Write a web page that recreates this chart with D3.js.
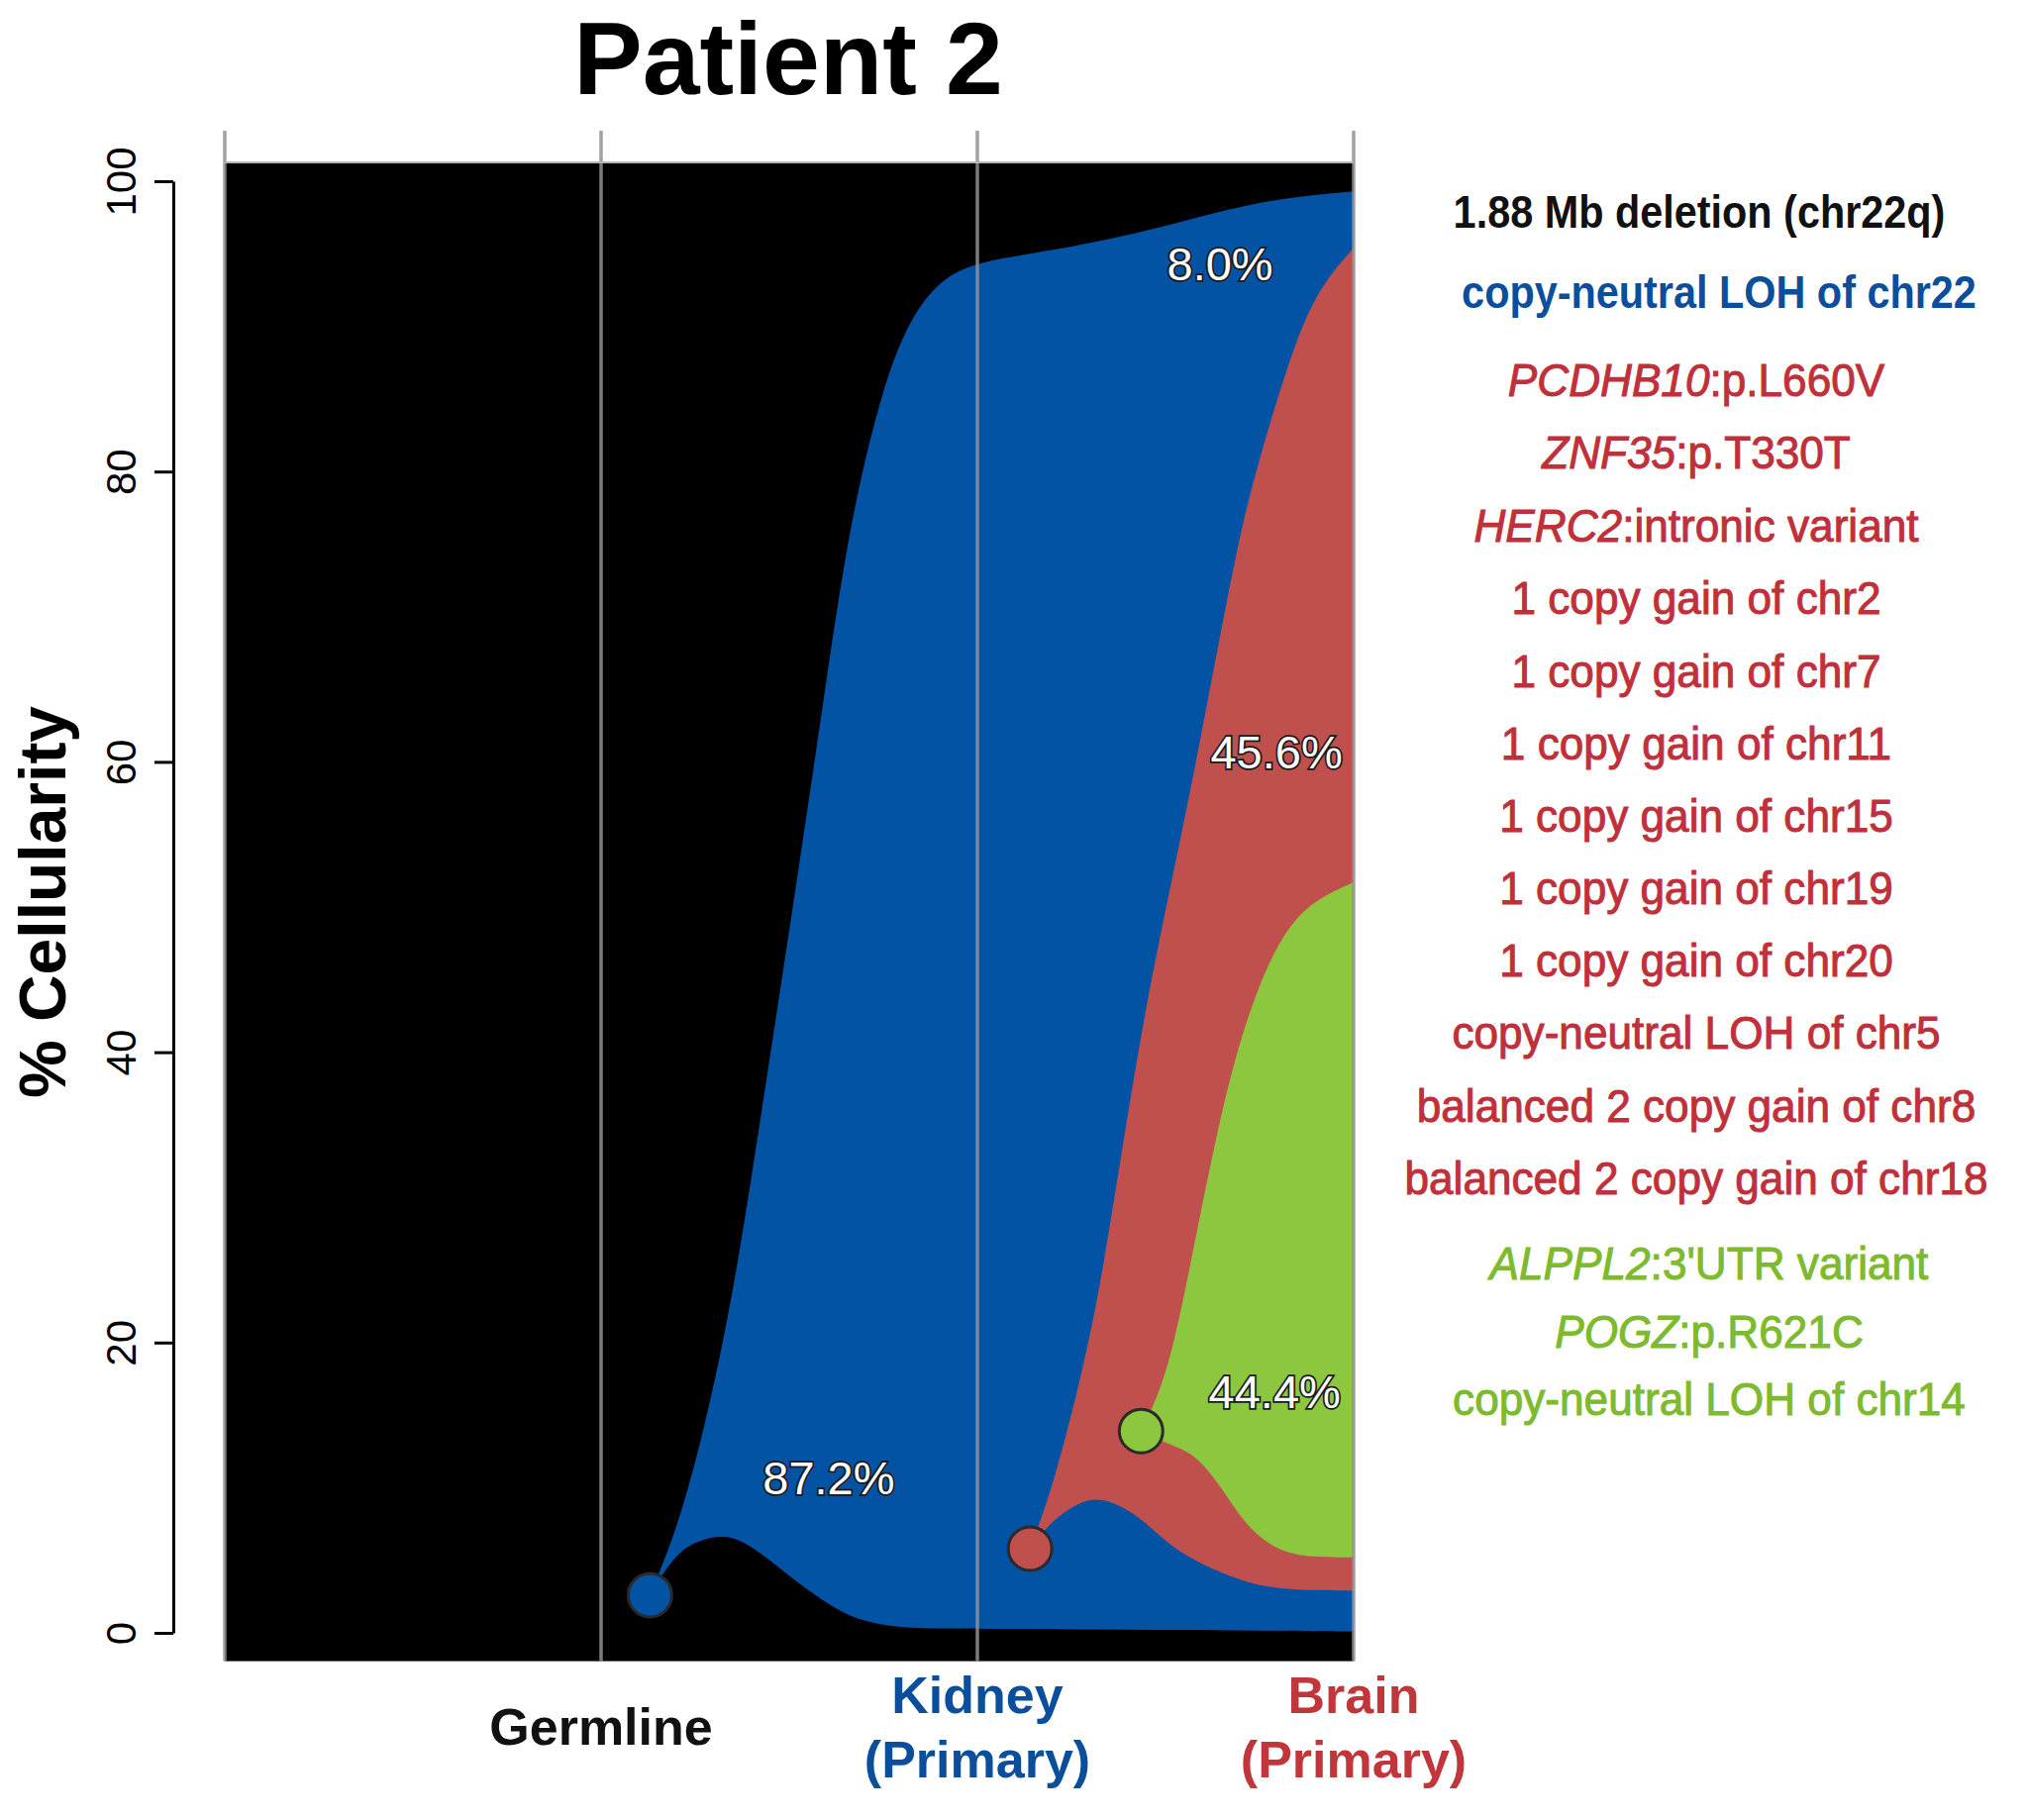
<!DOCTYPE html>
<html>
<head>
<meta charset="utf-8">
<script src="https://cdn.jsdelivr.net/npm/d3@7"></script>
<style>
  html, body { margin: 0; padding: 0; background: #fff; }
  svg { display: block; }
  text { font-family: "Liberation Sans", Arial, sans-serif; }
</style>
</head>
<body>
<svg id="chart" width="2047" height="1838"></svg>
<script>
// ---------------- DATA ----------------
const sampleTimes = [1, 2, 3];
const sampleLabels = [["Germline"], ["Kidney", "(Primary)"], ["Brain", "(Primary)"]];
const sampleColors = ["#111111", "#0B4E9B", "#C0363A"];
const yTicks = [0, 20, 40, 60, 80, 100];

// Clone 1 (blue)
const blueT     = [1.13, 1.20, 1.27, 1.35, 1.43, 1.51, 1.59, 1.66, 1.75, 1.82, 1.90, 2.00, 2.25, 2.52, 2.75, 3.00];
const blueTop   = [2.6, 7.0, 13.5, 23.0, 36.5, 50.0, 64.0, 76.5, 86.0, 90.5, 93.2, 94.5, 95.4, 97.0, 98.7, 99.3];
const blueBot   = [2.6, 5.6, 6.5, 6.8, 5.4, 3.7, 2.2, 1.1, 0.5, 0.35, 0.3, 0.28, 0.25, 0.2, 0.15, 0.1];
// Clone 2 (red)
const redT      = [2.14, 2.20, 2.27, 2.33, 2.43, 2.51, 2.59, 2.69, 2.745, 2.82, 2.895, 3.00];
const redTop    = [5.8, 10.0, 17.0, 24.0, 41.0, 51.0, 61.0, 75.0, 80.5, 87.0, 92.3, 95.4];
const redBot    = [5.8, 7.8, 9.0, 9.4, 8.1, 6.0, 4.8, 3.7, 3.3, 3.0, 2.95, 2.9];
// Clone 3 (green)
const greenT    = [2.435, 2.507, 2.576, 2.645, 2.714, 2.80, 2.886, 3.00];
const greenTop  = [13.9, 17.7, 26.7, 35.6, 42.4, 47.8, 50.4, 51.7];
const greenBot  = [13.9, 13.0, 12.4, 10.2, 7.3, 5.6, 5.2, 5.2];

// Origin dots (time, value)
const dotT = [1.13, 2.14, 2.435];
const dotV = [2.6, 5.8, 13.9];

// Clone fraction labels
const pctText = ["87.2%", "8.0%", "45.6%", "44.4%"];
const pctT    = [1.605, 2.645, 2.795, 2.79];
const pctV    = [10.4, 94.0, 60.4, 16.3];

// Annotation list
const annotGene = ["", "", "PCDHB10", "ZNF35", "HERC2", "", "", "", "", "", "", "", "", "", "ALPPL2", "POGZ", ""];
const annotRest = ["1.88 Mb deletion (chr22q)", "copy-neutral LOH of chr22", ":p.L660V", ":p.T330T", ":intronic variant",
  "1 copy gain of chr2", "1 copy gain of chr7", "1 copy gain of chr11", "1 copy gain of chr15",
  "1 copy gain of chr19", "1 copy gain of chr20", "copy-neutral LOH of chr5",
  "balanced 2 copy gain of chr8", "balanced 2 copy gain of chr18",
  ":3'UTR variant", ":p.R621C", "copy-neutral LOH of chr14"];
const annotGroup = [0, 1, 2, 2, 2, 2, 2, 2, 2, 2, 2, 2, 2, 2, 3, 3, 3];

// ---------------- STYLE / LAYOUT ----------------
const fillColors = ["#0353A4", "#C0504D", "#8DC63F"];
const groupTextColors = ["#111111", "#0B4E9B", "#C0303A", "#7DBA2E"];
const groupCenterX = [1716, 1736, 1713, 1726];
const annotBaselines = [230, 311, 400, 473, 547, 620, 694, 767, 840, 913, 986, 1059, 1133, 1206, 1292, 1361, 1429];

const svg = d3.select("#chart");
const x = d3.scaleLinear().domain([0, 3]).range([227, 1367]);
const y = d3.scaleLinear().domain([0, 100]).range([1649, 183]);
const curve = d3.curveBasis;

// Title
svg.append("text").attr("x", 796).attr("y", 95)
  .attr("text-anchor", "middle").attr("font-size", 104).attr("font-weight", "bold")
  .attr("fill", "#000").text("Patient 2");

// Plot background
const yLo = -1.95, yHi = 101.3;
svg.append("rect").attr("x", x(0)).attr("y", y(yHi))
  .attr("width", x(3) - x(0)).attr("height", y(yLo) - y(yHi)).attr("fill", "#000");

// Clones
function drawClone(ts, tops, bots, color) {
  const pts = ts.map((t, i) => ({ t, top: tops[i], bot: bots[i] }));
  const area = d3.area().x(d => x(d.t)).y0(d => y(d.bot)).y1(d => y(d.top)).curve(curve);
  svg.append("path").datum(pts).attr("d", area).attr("fill", color);
}
drawClone(blueT, blueTop, blueBot, fillColors[0]);
drawClone(redT, redTop, redBot, fillColors[1]);
drawClone(greenT, greenTop, greenBot, fillColors[2]);

// Vertical lines at time points and plot edge
[0].concat(sampleTimes).forEach(t => {
  svg.append("line").attr("x1", x(t)).attr("x2", x(t))
    .attr("y1", 132).attr("y2", y(yLo))
    .attr("stroke", "#909090").attr("stroke-opacity", 0.85).attr("stroke-width", 3.5);
});
svg.append("line").attr("x1", x(0)).attr("x2", x(3)).attr("y1", y(yHi)).attr("y2", y(yHi))
  .attr("stroke", "#b5b5b5").attr("stroke-width", 2);

// Origin dots
dotT.forEach((t, i) => {
  svg.append("circle").attr("cx", x(t)).attr("cy", y(dotV[i])).attr("r", 22)
    .attr("fill", fillColors[i]).attr("stroke", "#2a2a2a").attr("stroke-width", 3);
});

// Percent labels
pctText.forEach((s, i) => {
  svg.append("text").attr("x", x(pctT[i])).attr("y", y(pctV[i]))
    .attr("text-anchor", "middle").attr("dominant-baseline", "middle")
    .attr("font-size", 47).attr("fill", "#fff")
    .attr("stroke", "#1a1a1a").attr("stroke-width", 3.5).attr("paint-order", "stroke")
    .text(s);
});

// Y axis
const yAxis = d3.axisLeft(y).tickValues(yTicks).tickSizeInner(19).tickSizeOuter(0).tickFormat(d3.format("d"));
const gy = svg.append("g").attr("transform", "translate(175,0)").call(yAxis);
gy.select(".domain").attr("stroke", "#000").attr("stroke-width", 3);
gy.selectAll(".tick line").attr("stroke", "#000").attr("stroke-width", 3);
gy.selectAll(".tick text")
  .attr("x", null).attr("dy", null).attr("y", 0)
  .attr("transform", "translate(-38,0) rotate(-90)")
  .attr("text-anchor", "middle")
  .attr("font-size", 42).attr("font-family", "Liberation Sans, Arial, sans-serif").attr("fill", "#000");

// Y label
svg.append("text").attr("transform", "translate(66,911) rotate(-90)")
  .attr("text-anchor", "middle").attr("font-size", 66).attr("font-weight", "bold")
  .attr("fill", "#000").text("% Cellularity");

// Sample labels
const sampleBaselines = [[1762], [1730, 1795], [1730, 1795]];
sampleLabels.forEach((lines, i) => {
  lines.forEach((ln, j) => {
    svg.append("text").attr("x", x(sampleTimes[i])).attr("y", sampleBaselines[i][j])
      .attr("text-anchor", "middle").attr("font-size", 52).attr("font-weight", "bold")
      .attr("fill", sampleColors[i]).text(ln);
  });
});

// Annotation list
annotRest.forEach((rest, i) => {
  const g = annotGroup[i];
  const bold = g <= 1;
  const k = bold ? 0.9 : 0.96;
  const t = svg.append("text")
    .attr("transform", `translate(${groupCenterX[g]},${annotBaselines[i]}) scale(${k},1)`)
    .attr("text-anchor", "middle").attr("font-size", 46)
    .attr("font-weight", bold ? "bold" : "normal")
    .attr("fill", groupTextColors[g])
    .attr("stroke", bold ? "none" : groupTextColors[g]).attr("stroke-width", 1);
  if (annotGene[i]) {
    t.append("tspan").attr("font-style", "italic").text(annotGene[i]);
  }
  t.append("tspan").text(rest);
});
</script>
</body>
</html>
